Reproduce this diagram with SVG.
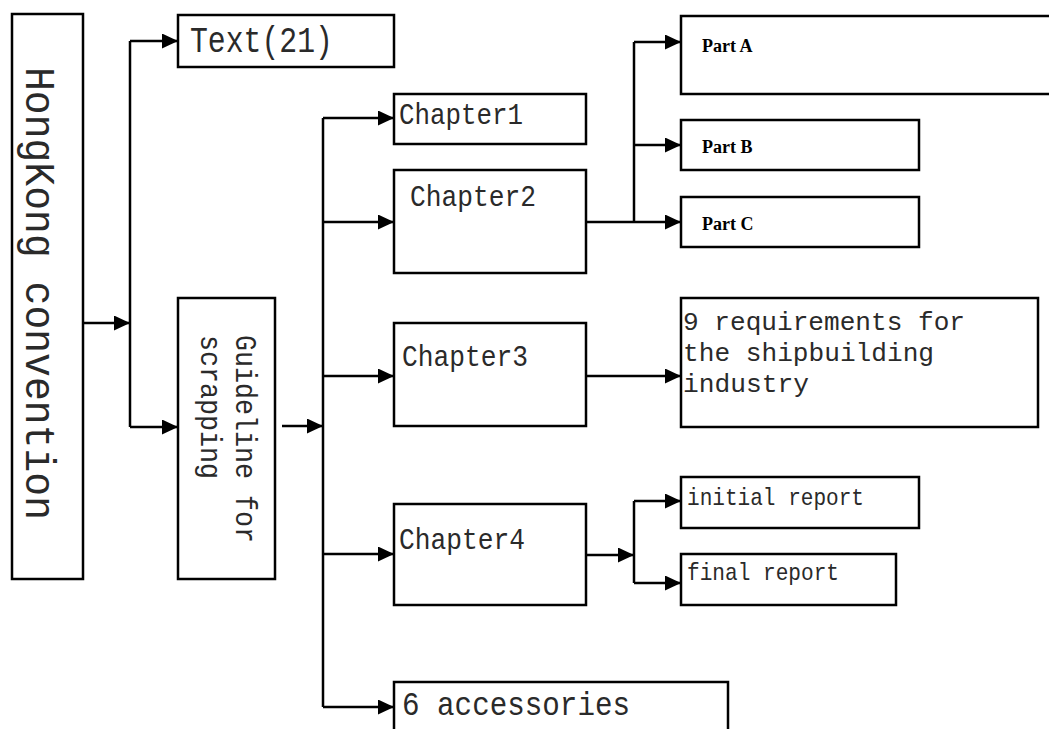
<svg xmlns="http://www.w3.org/2000/svg" width="1049" height="729" viewBox="0 0 1049 729">
<defs>
<marker id="arr" markerUnits="userSpaceOnUse" markerWidth="17" markerHeight="15" refX="16" refY="7.5" orient="auto">
<path d="M0,0 L16,7.5 L0,15 Z" fill="#000"/>
</marker>
<style>
.box{fill:#fff;stroke:#000;stroke-width:2.5}
.ln{fill:none;stroke:#000;stroke-width:2.5}
.ar{fill:none;stroke:#000;stroke-width:2.5;marker-end:url(#arr)}
.m{font-family:"Liberation Mono","DejaVu Sans Mono",monospace;fill:#2a2a2a}
.p{font-family:"Liberation Serif","Times New Roman",serif;font-weight:bold;font-size:18px;fill:#000}
</style>
</defs>
<rect width="1049" height="729" fill="#fff"/>
<g id="connectors">
<line class="ar" x1="83" y1="323" x2="130" y2="323"/>
<polyline class="ln" points="130,41 130,427"/>
<line class="ar" x1="130" y1="41" x2="178" y2="41"/>
<line class="ar" x1="130" y1="427" x2="178" y2="427"/>
<line class="ar" x1="282" y1="426" x2="323" y2="426"/>
<polyline class="ln" points="323,118 323,707"/>
<line class="ar" x1="323" y1="118" x2="394" y2="118"/>
<line class="ar" x1="323" y1="222" x2="394" y2="222"/>
<line class="ar" x1="323" y1="376" x2="394" y2="376"/>
<line class="ar" x1="323" y1="554" x2="394" y2="554"/>
<line class="ar" x1="323" y1="707" x2="394" y2="707"/>
<line class="ln" x1="586" y1="222" x2="634" y2="222"/>
<polyline class="ln" points="634,42 634,222"/>
<line class="ar" x1="634" y1="42" x2="681" y2="42"/>
<line class="ar" x1="634" y1="145" x2="681" y2="145"/>
<line class="ar" x1="634" y1="222" x2="681" y2="222"/>
<line class="ar" x1="586" y1="376" x2="681" y2="376"/>
<line class="ar" x1="586" y1="555" x2="634" y2="555"/>
<polyline class="ln" points="634,501 634,583"/>
<line class="ar" x1="634" y1="501" x2="681" y2="501"/>
<line class="ar" x1="634" y1="583" x2="681" y2="583"/>
</g>
<g id="hk">
<rect class="box" x="12" y="14" width="71" height="565"/>
<text class="m" transform="translate(26,67) rotate(90)" font-size="42" textLength="453" lengthAdjust="spacingAndGlyphs">HongKong convention</text>
</g>
<g id="text21">
<rect class="box" x="178" y="15" width="216" height="52"/>
<text class="m" x="190" y="52" font-size="37" textLength="143" lengthAdjust="spacingAndGlyphs">Text(21)</text>
</g>
<g id="guideline">
<rect class="box" x="178" y="298" width="97" height="281"/>
<text class="m" transform="translate(236,335) rotate(90)" font-size="29" textLength="208" lengthAdjust="spacingAndGlyphs">Guideline for</text>
<text class="m" transform="translate(201,335) rotate(90)" font-size="29" textLength="144" lengthAdjust="spacingAndGlyphs">scrapping</text>
</g>
<g id="ch1">
<rect class="box" x="394" y="94" width="192" height="50"/>
<text class="m" x="399" y="124" font-size="30" textLength="124" lengthAdjust="spacingAndGlyphs">Chapter1</text>
</g>
<g id="ch2">
<rect class="box" x="394" y="170" width="192" height="103"/>
<text class="m" x="410" y="206" font-size="30" textLength="126" lengthAdjust="spacingAndGlyphs">Chapter2</text>
</g>
<g id="ch3">
<rect class="box" x="394" y="323" width="192" height="103"/>
<text class="m" x="402" y="366" font-size="30" textLength="126" lengthAdjust="spacingAndGlyphs">Chapter3</text>
</g>
<g id="ch4">
<rect class="box" x="394" y="504" width="192" height="101"/>
<text class="m" x="399" y="549" font-size="30" textLength="126" lengthAdjust="spacingAndGlyphs">Chapter4</text>
</g>
<g id="acc">
<rect class="box" x="394" y="682" width="334" height="60"/>
<text class="m" x="402" y="715" font-size="33" textLength="228" lengthAdjust="spacingAndGlyphs">6 accessories</text>
</g>
<g id="partA">
<rect class="box" x="681" y="16" width="375" height="78"/>
<text class="p" x="702" y="52">Part A</text>
</g>
<g id="partB">
<rect class="box" x="681" y="120" width="238" height="50"/>
<text class="p" x="702" y="153">Part B</text>
</g>
<g id="partC">
<rect class="box" x="681" y="197" width="238" height="50"/>
<text class="p" x="702" y="230">Part C</text>
</g>
<g id="req">
<rect class="box" x="681" y="298" width="357" height="129"/>
<text class="m" font-size="26"><tspan x="683" y="330" textLength="282" lengthAdjust="spacingAndGlyphs">9 requirements for</tspan><tspan x="683" y="361" textLength="251" lengthAdjust="spacingAndGlyphs">the shipbuilding</tspan><tspan x="683" y="392" textLength="126" lengthAdjust="spacingAndGlyphs">industry</tspan></text>
</g>
<g id="initial">
<rect class="box" x="681" y="477" width="238" height="51"/>
<text class="m" x="687" y="505" font-size="24" textLength="177" lengthAdjust="spacingAndGlyphs">initial report</text>
</g>
<g id="final">
<rect class="box" x="681" y="554" width="215" height="51"/>
<text class="m" x="687" y="580" font-size="24" textLength="152" lengthAdjust="spacingAndGlyphs">final report</text>
</g>
</svg>
